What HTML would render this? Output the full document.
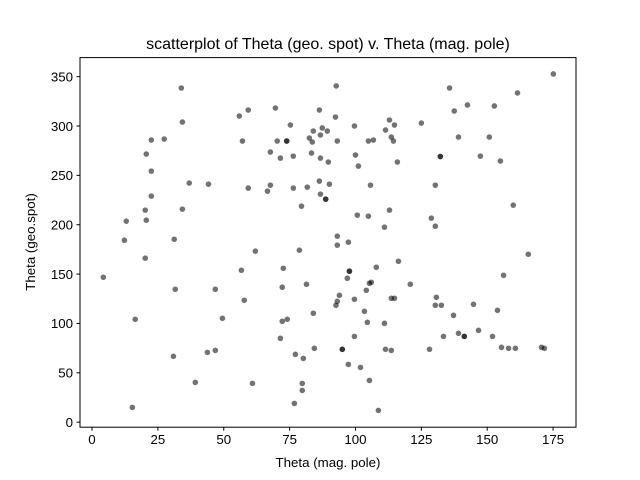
<!DOCTYPE html>
<html><head><meta charset="utf-8"><style>
body{margin:0;background:#fff;}
svg{display:block;font-family:"Liberation Sans","DejaVu Sans",sans-serif;}
</style></head><body>
<svg id="chart" width="640" height="480" viewBox="0 0 640 480" xmlns="http://www.w3.org/2000/svg">
<rect width="640" height="480" fill="#fff"/>
<text x="328" y="49" font-size="16" text-anchor="middle">scatterplot of Theta (geo. spot) v. Theta (mag. pole)</text>
<text x="328" y="467" font-size="13.3" text-anchor="middle">Theta (mag. pole)</text>
<text transform="translate(35,242) rotate(-90)" font-size="13.3" text-anchor="middle">Theta (geo.spot)</text>
<g id="ticks"></g>
<g id="points"></g>
<rect x="80" y="57.6" width="496" height="369.6" fill="none" stroke="#000" stroke-width="1"/>
</svg>
<script>
const xTicks=[0,25,50,75,100,125,150,175];
const yTicks=[0,50,100,150,200,250,300,350];
const magPole=[33.9,34.3,22.5,27.4,20.6,22.5,36.9,44.2,22.5,20.2,34.3,13.0,20.6,12.3,31.2,55.9,59.3,69.6,75.3,57.1,70.3,73.9,73.9,67.7,71.5,76.4,59.3,67.7,66.6,76.4,81.7,79.5,86.3,84.0,87.4,89.3,86.7,82.5,83.6,83.3,86.7,89.7,86.3,90.1,86.7,88.7,88.7,
92.7,92.4,93.1,99.6,100.0,101.1,105.7,104.9,106.8,111.4,112.9,114.8,113.6,114.4,115.9,125.0,132.2,132.2,130.3,100.7,104.9,112.9,111.0,128.8,130.3,93.1,97.3,93.1,135.7,137.5,142.5,139.1,147.4,150.8,152.7,155.0,159.9,161.5,175.1,
62.0,78.7,20.2,4.3,56.7,72.6,31.6,46.8,72.2,81.4,57.8,16.4,49.5,72.2,74.1,84.0,71.5,84.4,77.2,80.2,30.9,43.8,46.8,39.2,60.9,79.8,79.8,76.8,15.3,
165.6,116.3,107.9,97.7,97.7,96.9,156.2,105.3,106.0,120.8,104.1,93.9,93.1,92.6,99.6,113.6,114.8,130.7,130.3,132.6,144.8,153.9,103.4,104.5,111.0,137.2,146.7,139.1,141.3,141.3,133.4,152.0,99.6,95.0,95.0,111.4,113.6,128.1,155.4,158.1,160.7,170.6,171.7,97.3,101.9,105.3,108.7];
const geoSpot=[338.5,304.0,285.8,286.8,271.6,254.3,242.2,241.1,229.0,214.8,215.8,203.6,204.6,184.3,185.3,310.1,316.2,318.2,301.0,284.8,284.8,284.8,284.8,273.6,267.5,269.5,237.1,240.1,234.0,237.1,238.1,218.8,316.2,294.9,298.0,294.9,290.9,287.8,283.8,272.6,267.5,263.5,244.2,241.1,231.0,225.9,225.9,
340.6,309.1,284.8,300.0,270.6,259.4,240.1,284.8,285.8,295.9,306.1,301.0,288.8,284.8,263.5,303.0,269.1,269.1,240.1,209.7,208.7,214.8,197.5,206.7,198.5,188.4,182.3,179.3,338.5,315.2,321.3,288.8,269.5,288.8,320.3,264.5,219.8,333.5,352.7,
173.2,174.2,166.1,146.8,153.9,155.9,134.6,134.6,136.7,139.7,123.5,104.2,105.2,102.2,104.2,110.3,84.9,74.8,68.7,64.6,66.7,70.7,72.7,40.3,39.3,39.3,32.2,19.0,14.9,
170.1,163.0,156.9,152.9,152.9,145.8,148.8,140.7,141.7,139.7,133.6,128.5,122.4,118.4,124.5,125.5,125.5,126.5,118.4,118.4,119.4,113.3,112.3,101.1,100.1,108.2,93.0,90.0,86.9,86.9,86.9,86.9,86.9,73.8,73.8,73.8,72.7,73.8,75.8,74.8,74.8,75.8,74.8,58.5,55.5,42.3,11.9];
const NS="http://www.w3.org/2000/svg";
const X0=80,X1=576,Y0=427.2,Y1=57.6,XMIN=-4.56,XMAX=183.7,YMIN=-5.1,YMAX=369.3;
function sx(v){return X0+(v-XMIN)/(XMAX-XMIN)*(X1-X0);}
function sy(v){return Y0-(v-YMIN)/(YMAX-YMIN)*(Y0-Y1);}
const tg=document.getElementById('ticks');
xTicks.forEach(t=>{
  const l=document.createElementNS(NS,'line');
  l.setAttribute('x1',sx(t));l.setAttribute('x2',sx(t));l.setAttribute('y1',Y0);l.setAttribute('y2',Y0+3.5);l.setAttribute('stroke','#000');
  
  
  tg.appendChild(l);
  const tx=document.createElementNS(NS,'text');
  tx.setAttribute('x',sx(t));tx.setAttribute('y',Y0+17);tx.setAttribute('font-size','13.3');tx.setAttribute('text-anchor','middle');
  tx.textContent=t;
  
  
  tg.appendChild(tx);
});
yTicks.forEach(t=>{
  const l=document.createElementNS(NS,'line');
  l.setAttribute('x1',X0-3.5);l.setAttribute('x2',X0);l.setAttribute('y1',sy(t));l.setAttribute('y2',sy(t));l.setAttribute('stroke','#000');
  
  
  tg.appendChild(l);
  const tx=document.createElementNS(NS,'text');
  tx.setAttribute('x',X0-7);tx.setAttribute('y',sy(t)+4.8);tx.setAttribute('font-size','13.3');tx.setAttribute('text-anchor','end');
  tx.textContent=t;
  
  
  tg.appendChild(tx);
});
const pg=document.getElementById('points');
magPole.forEach((v,i)=>{
  const c=document.createElementNS(NS,'circle');
  c.setAttribute('cx',sx(v));c.setAttribute('cy',sy(geoSpot[i]));c.setAttribute('r','2.8');
  c.setAttribute('fill','#000');c.setAttribute('fill-opacity','0.55');
  
  
  pg.appendChild(c);
});
</script>
</body></html>
